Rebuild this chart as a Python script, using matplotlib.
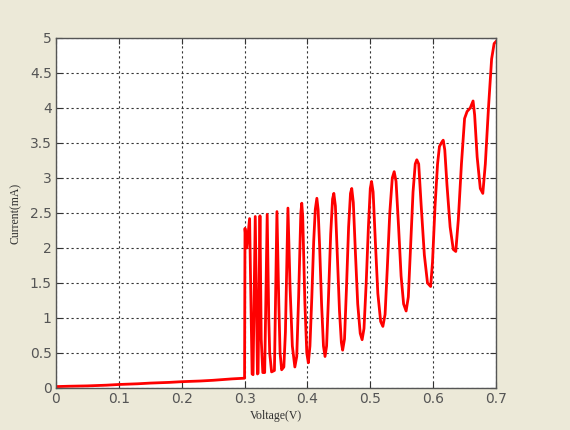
import matplotlib
matplotlib.use("Agg")
import matplotlib.pyplot as plt

# I-V sweep: flat leakage up to 0.3 V, then the oscillating branch
voltage_leak = [0.0, 0.02, 0.05, 0.08, 0.10, 0.13, 0.15, 0.18, 0.20, 0.23, 0.25, 0.28, 0.30]
current_leak = [0.02, 0.025, 0.03, 0.04, 0.05, 0.06, 0.07, 0.08, 0.09, 0.10, 0.11, 0.13, 0.14]

voltage_osc = [
    0.3007, 0.3035, 0.3080, 0.3120,
    0.3135, 0.3170, 0.3205,
    0.3215, 0.3245, 0.3265, 0.3290,
    0.3320, 0.3360, 0.3385, 0.3400, 0.3430,
    0.3475, 0.3515, 0.3545, 0.3565, 0.3590,
    0.3625, 0.3650, 0.3690, 0.3725, 0.3760, 0.3800,
    0.3830, 0.3860, 0.3895, 0.3910, 0.3925, 0.3960, 0.3990, 0.4015,
    0.4040, 0.4070, 0.4100, 0.4125, 0.4150, 0.4170, 0.4195, 0.4225, 0.4255, 0.4280,
    0.4305, 0.4335, 0.4370, 0.4400, 0.4420, 0.4445, 0.4475, 0.4510, 0.4540, 0.4560,
    0.4590, 0.4620, 0.4655, 0.4685, 0.4705, 0.4730, 0.4765, 0.4800, 0.4840, 0.4870,
    0.4900, 0.4935, 0.4970, 0.5000, 0.5020, 0.5045, 0.5080, 0.5120, 0.5165, 0.5200,
    0.5235, 0.5270, 0.5310, 0.5350, 0.5380, 0.5410, 0.5450, 0.5490, 0.5530, 0.5570,
    0.5605, 0.5640, 0.5680, 0.5715, 0.5740, 0.5770, 0.5810, 0.5860, 0.5910, 0.5960,
    0.5990, 0.6030, 0.6070, 0.6100, 0.6130, 0.6160, 0.6185, 0.6220, 0.6270, 0.6320, 0.6360,
    0.6400, 0.6450, 0.6500, 0.6540, 0.6590, 0.6635, 0.6660, 0.6700, 0.6750, 0.6790,
    0.6830, 0.6880, 0.6930, 0.6970, 0.7000,
]
current_osc = [
    2.28, 2.00, 2.42, 0.20,
    0.19, 2.45, 0.20,
    0.21, 2.46, 0.70, 0.22,
    0.22, 2.48, 1.00, 0.50, 0.23,
    0.25, 2.52, 1.20, 0.50, 0.26,
    0.30, 0.80, 2.57, 1.40, 0.60, 0.30,
    0.45, 1.30, 2.50, 2.64, 2.45, 1.20, 0.50, 0.36,
    0.60, 1.30, 2.10, 2.55, 2.71, 2.55, 2.00, 1.20, 0.60, 0.45,
    0.60, 1.30, 2.20, 2.70, 2.78, 2.60, 1.90, 1.10, 0.65, 0.54,
    0.70, 1.40, 2.30, 2.78, 2.85, 2.65, 1.90, 1.20, 0.78, 0.69,
    0.85, 1.50, 2.30, 2.85, 2.95, 2.80, 2.10, 1.35, 0.95, 0.88,
    1.05, 1.70, 2.50, 3.00, 3.09, 2.95, 2.30, 1.60, 1.20, 1.10,
    1.30, 2.00, 2.80, 3.20, 3.26, 3.20, 2.60, 1.90, 1.50, 1.45,
    1.80, 2.60, 3.20, 3.45, 3.50, 3.54, 3.40, 2.90, 2.30, 1.98, 1.95,
    2.40, 3.20, 3.85, 3.95, 4.00, 4.10, 3.90, 3.30, 2.85, 2.78,
    3.20, 4.00, 4.70, 4.92, 4.95,
]

x_ticks = [0, 0.1, 0.2, 0.3, 0.4, 0.5, 0.6, 0.7]
y_ticks = [0, 0.5, 1, 1.5, 2, 2.5, 3, 3.5, 4, 4.5, 5]
y_ticklabels = ["0", "0.5", "1", "1.5", "2", "2.5", "3", "3.5", "4", "4.5", "5"]

fig = plt.figure(figsize=(5.7, 4.3), dpi=100, facecolor="#ece9d8")
ax = fig.add_axes([0.0982, 0.0977, 0.772, 0.814])
ax.set_facecolor("white")

ax.plot(voltage_leak + voltage_osc, current_leak + current_osc,
        color="#ff0000", lw=2.0, solid_joinstyle="round")

ax.set_xlim(0, 0.7)
ax.set_ylim(0, 5)
ax.set_xticks(x_ticks)
ax.set_xticklabels([f"{t:g}" for t in x_ticks])
ax.set_yticks(y_ticks)
ax.set_yticklabels(y_ticklabels)

ax.grid(True, color="#333333", linestyle=(0, (2, 2.5)), lw=0.8)
ax.tick_params(direction="in", length=4, width=0.8, colors="#333333",
               top=True, right=True, labelsize=10, labelcolor="#555555", pad=3)
for lbl in ax.get_xticklabels() + ax.get_yticklabels():
    lbl.set_family("DejaVu Sans")
for sp in ax.spines.values():
    sp.set_color("#555555")
    sp.set_linewidth(1.0)

ax.set_xlabel("Voltage(V)", family="Liberation Serif", fontsize=8.5,
              color="#303030", labelpad=3)
ax.set_ylabel("Current(mA)", family="Liberation Serif", fontsize=8.5,
              color="#303030", labelpad=6)

fig.savefig("out.png", dpi=100, facecolor=fig.get_facecolor())
